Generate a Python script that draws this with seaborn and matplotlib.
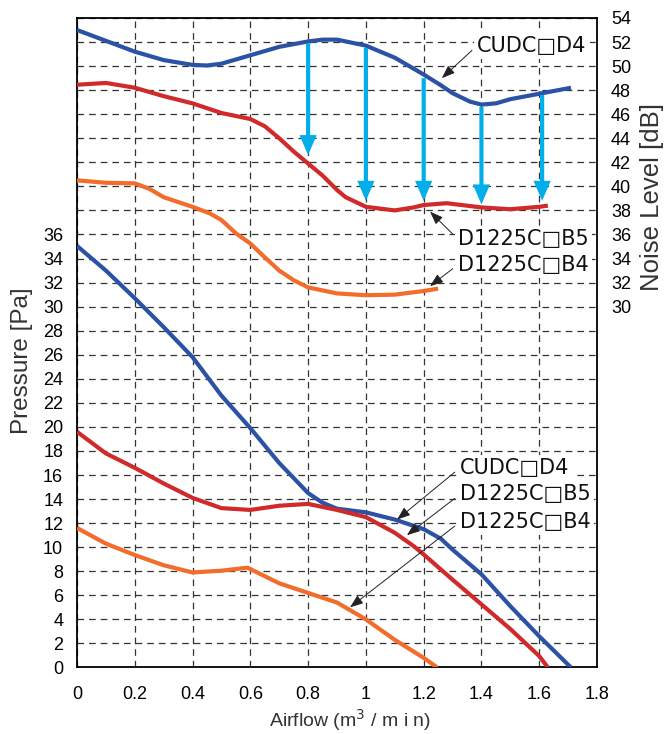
import numpy as np
import pandas as pd
import seaborn as sns
import matplotlib.pyplot as plt

plt.rcParams['font.family'] = ['Liberation Sans', 'DejaVu Sans']

# noise level [dB] vs airflow
noise_cudc_x = [0.0, 0.1, 0.2, 0.3, 0.4, 0.45, 0.5, 0.6, 0.7, 0.8, 0.85, 0.9, 1.0, 1.1, 1.2, 1.26, 1.3, 1.36, 1.4, 1.45, 1.5, 1.6, 1.71]
noise_cudc_y = [53.0, 52.1, 51.2, 50.5, 50.1, 50.05, 50.2, 50.9, 51.6, 52.05, 52.2, 52.2, 51.7, 50.7, 49.3, 48.4, 47.75, 47.05, 46.8, 46.9, 47.25, 47.7, 48.2]
noise_b5_x = [0.0, 0.1, 0.2, 0.3, 0.4, 0.5, 0.6, 0.65, 0.7, 0.75, 0.8, 0.85, 0.9, 0.93, 1.0, 1.1, 1.165, 1.2, 1.28, 1.4, 1.5, 1.6, 1.63]
noise_b5_y = [48.45, 48.6, 48.2, 47.5, 46.9, 46.1, 45.6, 45.0, 44.0, 42.9, 41.9, 40.9, 39.7, 39.1, 38.3, 38.0, 38.25, 38.45, 38.6, 38.25, 38.1, 38.3, 38.4]
noise_b4_x = [0.0, 0.1, 0.2, 0.25, 0.3, 0.4, 0.46, 0.5, 0.55, 0.6, 0.65, 0.7, 0.75, 0.8, 0.9, 1.0, 1.1, 1.2, 1.25]
noise_b4_y = [40.5, 40.3, 40.25, 39.8, 39.1, 38.3, 37.75, 37.2, 36.1, 35.25, 34.1, 33.0, 32.2, 31.6, 31.1, 30.95, 31.0, 31.3, 31.5]

# static pressure [Pa] vs airflow
pres_cudc_x = [0.0, 0.1, 0.2, 0.3, 0.4, 0.5, 0.6, 0.7, 0.8, 0.85, 0.9, 1.0, 1.1, 1.2, 1.26, 1.3, 1.4, 1.5, 1.6, 1.71]
pres_cudc_y = [35.05, 33.0, 30.7, 28.3, 25.8, 22.6, 19.9, 17.0, 14.5, 13.7, 13.2, 12.9, 12.3, 11.5, 10.7, 9.8, 7.75, 5.1, 2.6, 0.0]
pres_b5_x = [0.0, 0.1, 0.2, 0.3, 0.4, 0.5, 0.6, 0.7, 0.8, 0.9, 1.0, 1.1, 1.165, 1.2, 1.3, 1.4, 1.5, 1.6, 1.63]
pres_b5_y = [19.6, 17.8, 16.6, 15.3, 14.1, 13.25, 13.1, 13.45, 13.6, 13.1, 12.5, 11.2, 10.1, 9.4, 7.3, 5.25, 3.2, 0.95, 0.0]
pres_b4_x = [0.0, 0.1, 0.2, 0.3, 0.4, 0.5, 0.59, 0.7, 0.8, 0.9, 1.0, 1.1, 1.2, 1.247]
pres_b4_y = [11.6, 10.3, 9.35, 8.5, 7.9, 8.05, 8.3, 7.0, 6.2, 5.4, 4.0, 2.3, 0.8, 0.0]

# noise reduction arrows
drop_x = [0.8, 1.0, 1.2, 1.4, 1.61]
drop_from = [51.9, 51.5, 49.0, 46.6, 47.6]
drop_to = [42.6, 38.8, 38.8, 38.5, 38.8]

models = ['CUDC\u25a1D4', 'D1225C\u25a1B5', 'D1225C\u25a1B4']
colors = {'CUDC\u25a1D4': '#2b52a5', 'D1225C\u25a1B5': '#d12a2b', 'D1225C\u25a1B4': '#f26c2b'}

curves = [
    ('noise', models[0], noise_cudc_x, noise_cudc_y),
    ('noise', models[1], noise_b5_x, noise_b5_y),
    ('noise', models[2], noise_b4_x, noise_b4_y),
    ('pressure', models[0], pres_cudc_x, pres_cudc_y),
    ('pressure', models[1], pres_b5_x, pres_b5_y),
    ('pressure', models[2], pres_b4_x, pres_b4_y),
]

fig = plt.figure(figsize=(6.68, 7.34), dpi=100)
ax = fig.add_axes([0.1153, 0.0906, 0.7784, 0.8849])

for kind, model, xs, ys in curves:
    df = pd.DataFrame({'Airflow': xs, 'Value': ys})
    sns.lineplot(data=df, x='Airflow', y='Value', ax=ax, color=colors[model],
                 linewidth=3.0, sort=False, estimator=None, zorder=3)
for ln in ax.lines:
    ln.set_solid_joinstyle('round')
    ln.set_solid_capstyle('butt')

for x, y0, y1 in zip(drop_x, drop_from, drop_to):
    ax.annotate('', xy=(x, y1), xytext=(x, y0),
                arrowprops=dict(arrowstyle='simple,head_length=0.72,head_width=0.62,tail_width=0.15',
                                mutation_scale=20, color='#00aeea', lw=0,
                                shrinkA=0, shrinkB=0), zorder=4)

# callout labels: text position and the point on the curve it points to
label_text = models + models
label_pos = [(1.385, 51.7), (1.319, 35.6), (1.319, 33.5), (1.326, 16.6), (1.326, 14.4), (1.326, 12.1)]
label_target = [(1.263, 49.0), (1.222, 37.9), (1.222, 31.7), (1.108, 12.3), (1.142, 11.0), (0.945, 5.0)]
for txt, pos, tgt in zip(label_text, label_pos, label_target):
    ax.annotate(txt, xy=tgt, xytext=pos, ha='left', va='center', fontsize=15,
                family=['DejaVu Sans'], color='#111111', zorder=5,
                bbox=dict(boxstyle='square,pad=0.15', fc='white', ec='none'),
                arrowprops=dict(arrowstyle='-|>,head_length=0.8,head_width=0.3',
                                mutation_scale=10, color='#222222', lw=0.7,
                                relpos=(0, 0.5), shrinkA=2, shrinkB=0))

ax.set_xlim(0, 1.8)
ax.set_ylim(0, 54)
xt = np.round(np.arange(0, 1.81, 0.2), 1)
ax.set_xticks(xt)
ax.set_xticklabels([f'{v:g}' for v in xt])
yt = list(range(0, 55, 2))
ax.set_yticks(yt)
ax.set_yticklabels([str(v) if v <= 36 else '' for v in yt])
ax.grid(True, color='#333333', linestyle=(0, (5.3, 4)), linewidth=0.9)
ax.set_axisbelow(True)
ax.tick_params(length=0, labelsize=13)
ax.tick_params(axis='x', pad=13)
ax.tick_params(axis='y', pad=10)
for s in ax.spines.values():
    s.set_linewidth(1.3)
    s.set_color('black')

ax.set_xlabel('Airflow (m$^3$ / m i n)', fontsize=14, color='#333333')
ax.xaxis.set_label_coords(0.525, -0.061)
ax.set_ylabel('Pressure [Pa]', fontsize=17.5, color='#333333')
ax.yaxis.set_label_coords(-0.085, 0.472)

ax2 = ax.twinx()
ax2.set_ylim(0, 54)
ax2.set_yticks(list(range(30, 55, 2)))
ax2.tick_params(length=0, labelsize=13, pad=10)
for s in ax2.spines.values():
    s.set_visible(False)
ax2.set_ylabel('Noise Level [dB]', fontsize=18.5, color='#333333')
ax2.yaxis.set_label_coords(1.083, 0.724)

fig.savefig('out.png', dpi=100)
